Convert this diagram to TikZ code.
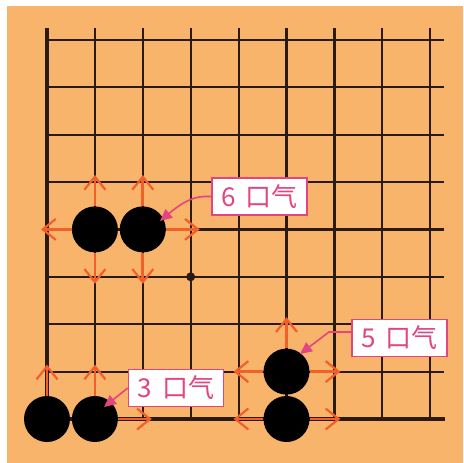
\documentclass[tikz,border=0pt]{standalone}
\usepackage{fontspec}
\newfontfamily\cjk{Noto Sans CJK SC}
\usetikzlibrary{arrows.meta}
\definecolor{board}{HTML}{F8B46B}
\definecolor{lib}{HTML}{F1602A}
\definecolor{callout}{HTML}{E2457F}
\definecolor{gridline}{HTML}{2A1A12}
\begin{document}
\begin{tikzpicture}[x=1pt,y=-1pt,
  stone/.style={circle,fill=black,minimum size=46pt,inner sep=0pt},
  libarrow/.style={draw=lib,line width=2.8pt,-{Straight Barb[length=13pt,width=21pt,line width=2.2pt]}},
  gridrule/.style={draw=gridline,line width=2.2pt},
  edgerule/.style={draw=gridline,line width=3.2pt},
  tagbox/.style={draw=callout,fill=white,line width=1.5pt,minimum width=95pt,minimum height=37pt,
    text=callout,font=\cjk\fontsize{26}{26}\selectfont,inner sep=0pt},
  pointer/.style={draw=callout,line width=1.6pt,-{Triangle[length=12pt,width=11pt]}}
]
\useasboundingbox (0,0) rectangle (463,463);
\fill[board] (7,6) rectangle (463,463);

% intersections
\foreach \i in {0,...,8}{
  \foreach \j in {0,...,8}{
    \coordinate (p-\i-\j) at ({47+47.9*\i},{419-47.4*\j});
  }
}
% grid
\foreach \i in {1,...,8}
  \draw[gridrule] (p-\i-0) -- ([yshift=12pt]p-\i-8);
\foreach \j in {1,...,8}
  \draw[gridrule] (p-0-\j) -- ([xshift=14pt]p-8-\j);
\draw[edgerule] ([yshift=12pt]p-0-8) -- (p-0-0) -- ([xshift=15pt]p-8-0);

% star point
\node[circle,fill=gridline,minimum size=9pt,inner sep=0pt] (star) at (p-3-3) {};

% stones
\node[stone] (a1) at (p-1-4) {};
\node[stone] (a2) at (p-2-4) {};
\node[stone] (b1) at (p-0-0) {};
\node[stone] (b2) at (p-1-0) {};
\node[stone] (c1) at (p-5-1) {};
\node[stone] (c2) at (p-5-0) {};

% liberty targets
\coordinate (a1u) at ([yshift=7pt]p-1-5);
\coordinate (a1d) at ([yshift=-7pt]p-1-3);
\coordinate (a1l) at ([xshift=-6pt]p-0-4);
\coordinate (a2u) at ([yshift=7pt]p-2-5);
\coordinate (a2d) at ([yshift=-7pt]p-2-3);
\coordinate (a2r) at ([xshift=9pt]p-3-4);
\coordinate (b1u) at ([yshift=7pt]p-0-1);
\coordinate (b2u) at ([yshift=7pt]p-1-1);
\coordinate (b2r) at ([xshift=9pt]p-2-0);
\coordinate (c1u) at ([yshift=7pt]p-5-2);
\coordinate (c1l) at ([xshift=-5pt]p-4-1);
\coordinate (c1r) at ([xshift=6pt]p-6-1);
\coordinate (c2l) at ([xshift=-5pt]p-4-0);
\coordinate (c2r) at ([xshift=6pt]p-6-0);

\draw[libarrow] (a1) -- (a1u);
\draw[libarrow] (a1) -- (a1d);
\draw[libarrow] (a1) -- (a1l);
\draw[libarrow] (a2) -- (a2u);
\draw[libarrow] (a2) -- (a2d);
\draw[libarrow] (a2) -- (a2r);
\draw[libarrow] (b1) -- (b1u);
\draw[libarrow] (b2) -- (b2u);
\draw[libarrow] (b2) -- (b2r);
\draw[libarrow] (c1) -- (c1u);
\draw[libarrow] (c1) -- (c1l);
\draw[libarrow] (c1) -- (c1r);
\draw[libarrow] (c2) -- (c2l);
\draw[libarrow] (c2) -- (c2r);

% labels
\node[tagbox] (t6) at (259.5,196.5) {6\hspace{10pt}口气};
\node[tagbox] (t3) at (176,388) {3\hspace{10pt}口气};
\node[tagbox] (t5) at (399.5,338) {5\hspace{10pt}口气};

\coordinate (tip6) at (160,221);
\coordinate (tip3) at (104,407);
\coordinate (tip5) at (300,354);
\draw[pointer] (t6.west) -- (204,196.5) .. controls (190,197) and (178,206) .. (tip6);
\draw[pointer] (t3.west) -- (tip3);
\draw[pointer] ([yshift=6pt]t5.west) -- (329,332) -- (tip5);
\end{tikzpicture}
\end{document}
